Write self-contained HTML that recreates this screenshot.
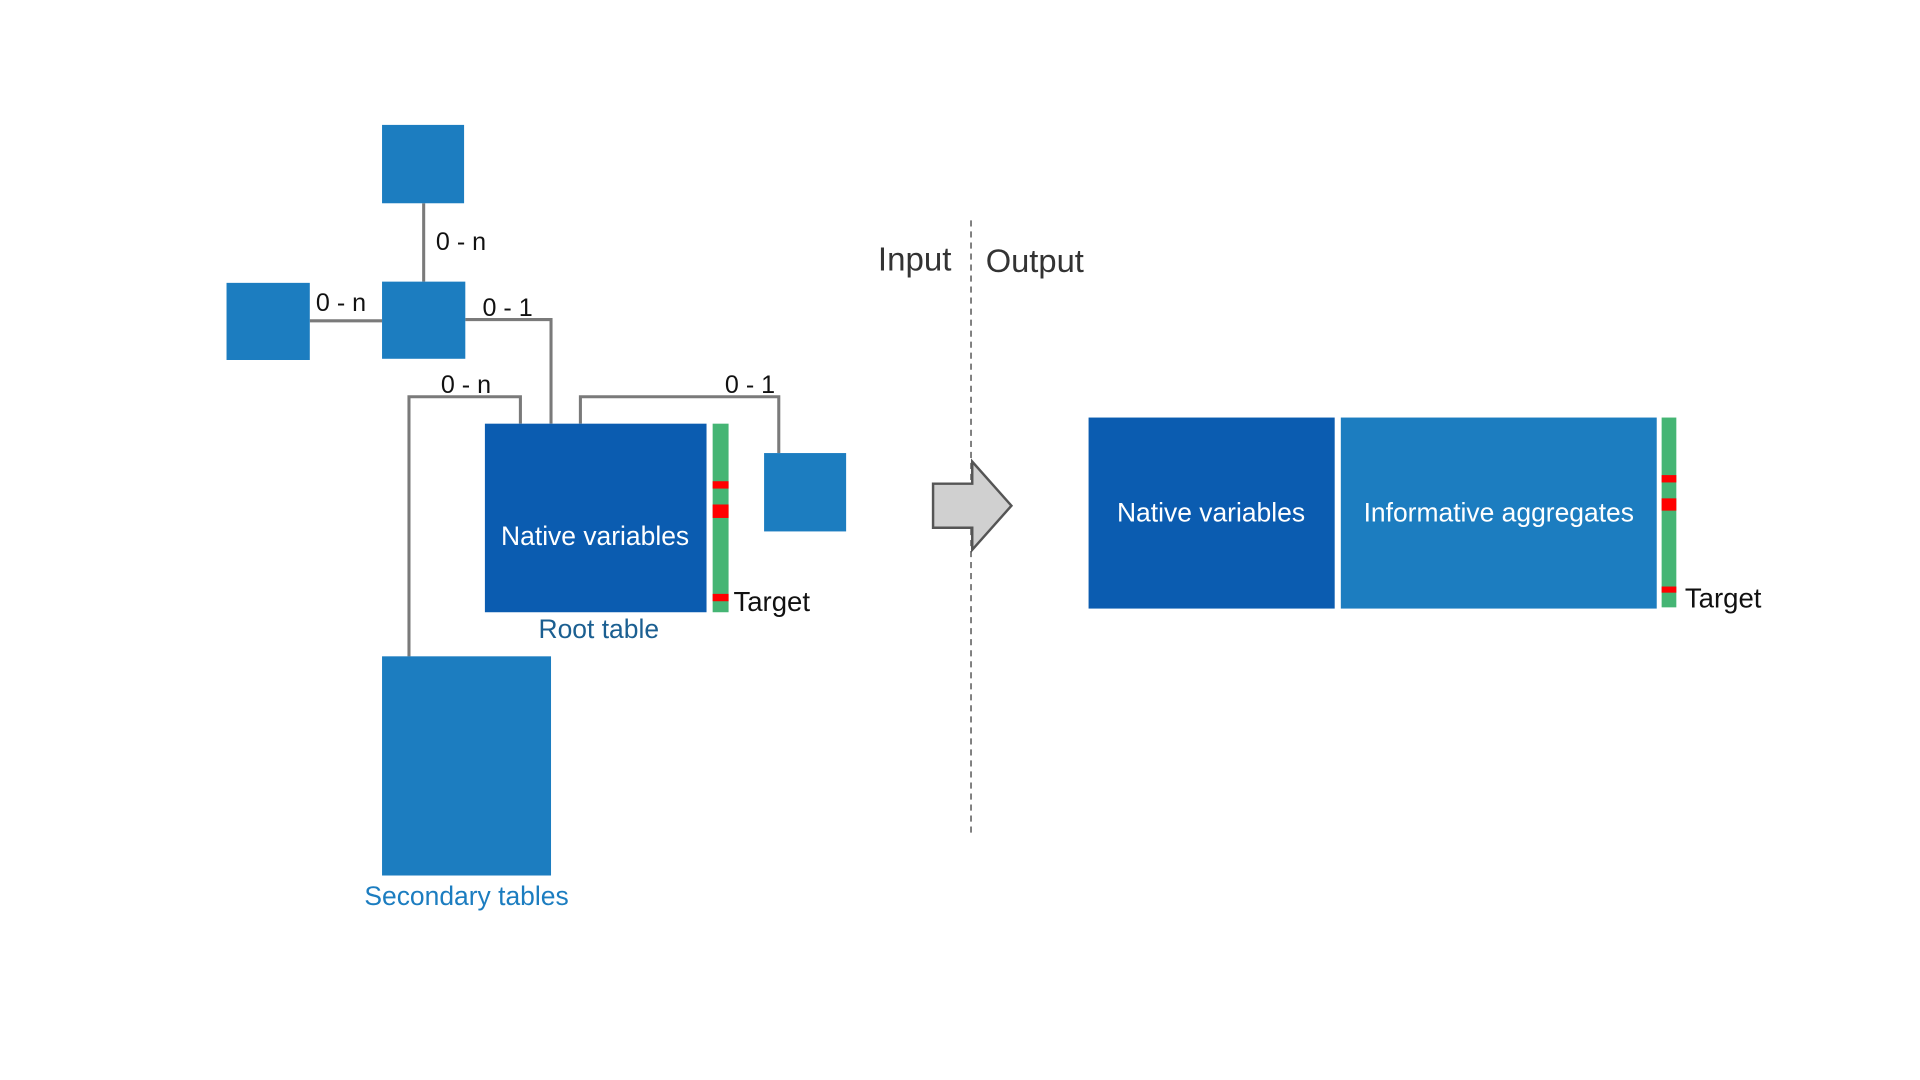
<!DOCTYPE html>
<html><head><meta charset="utf-8"><style>
html,body{margin:0;padding:0;background:#fff;width:1920px;height:1080px;overflow:hidden}
svg{display:block;font-family:"Liberation Sans",sans-serif}
</style></head><body>
<svg width="1920" height="1080" viewBox="0 0 1568 882" xmlns="http://www.w3.org/2000/svg">
<g fill="none" stroke="#7a7a7a" stroke-width="2.5">
<path d="M346 166V230"/>
<path d="M253 262H312"/>
<path d="M380 261H450V346"/>
<path d="M425 346V324H334V536"/>
<path d="M474 346V324H636V370"/>
</g>
<g fill="#1c7dc0">
<rect x="312" y="102" width="67" height="64"/>
<rect x="312" y="230" width="68" height="63"/>
<rect x="185" y="231" width="68" height="63"/>
<rect x="624" y="370" width="67" height="64"/>
<rect x="312" y="536" width="138" height="179"/>
<rect x="1095" y="341" width="258" height="156"/>
</g>
<rect x="396" y="346" width="181" height="154" fill="#0b5cb0"/>
<rect x="889" y="341" width="201" height="156" fill="#0b5cb0"/>
<g>
<rect x="582" y="346" width="13" height="154" fill="#45b574"/>
<rect x="582" y="393" width="13" height="6" fill="#ff0000"/>
<rect x="582" y="412" width="13" height="11" fill="#ff0000"/>
<rect x="582" y="485" width="13" height="6" fill="#ff0000"/>
</g>
<g>
<rect x="1357" y="341" width="12" height="155" fill="#45b574"/>
<rect x="1357" y="388" width="12" height="6" fill="#ff0000"/>
<rect x="1357" y="407" width="12" height="10" fill="#ff0000"/>
<rect x="1357" y="479" width="12" height="5" fill="#ff0000"/>
</g>
<g font-size="20.5" fill="#111">
<text x="356" y="204">0 - n</text>
<text x="258" y="254">0 - n</text>
<text x="394" y="258">0 - 1</text>
<text x="360" y="321">0 - n</text>
<text x="592" y="321">0 - 1</text>
<text x="599" y="499" font-size="22.5">Target</text>
<text x="1376" y="496" font-size="22.5">Target</text>
</g>
<g fill="#fff" font-size="21.6" text-anchor="middle">
<text x="486" y="445">Native variables</text>
<text x="989" y="426">Native variables</text>
<text x="1224" y="426">Informative aggregates</text>
</g>
<text x="489" y="521" font-size="21.6" fill="#1b5f91" text-anchor="middle">Root table</text>
<text x="381" y="739" font-size="21.6" fill="#1c7dc0" text-anchor="middle">Secondary tables</text>
<line x1="793" y1="180" x2="793" y2="682" stroke="#777" stroke-width="1.5" stroke-dasharray="5,4"/>
<text x="777" y="221" font-size="27" fill="#333" text-anchor="end">Input</text>
<text x="805" y="222" font-size="26.7" fill="#333">Output</text>
<polygon points="762,395 794,395 794,377 826,413 794,449 794,431 762,431" fill="#d0d0d0" stroke="#555" stroke-width="2"/>
</svg>
</body></html>
